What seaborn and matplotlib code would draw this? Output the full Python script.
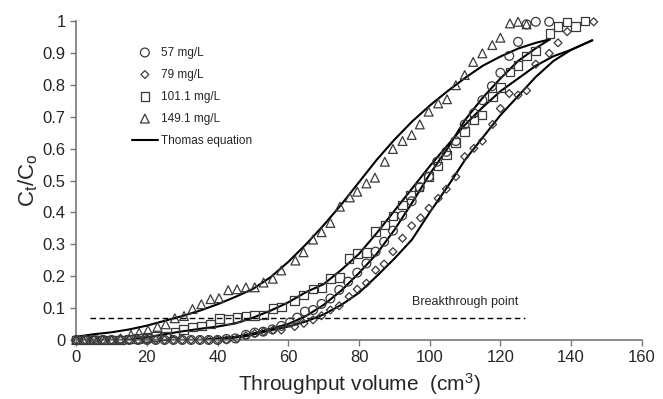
import numpy as np
import pandas as pd
import seaborn as sns
import matplotlib.pyplot as plt

sns.set_style('ticks')
plt.rcParams['font.family'] = ['Liberation Sans', 'DejaVu Sans']
plt.rcParams['mathtext.fontset'] = 'custom'
plt.rcParams['mathtext.rm'] = 'Liberation Sans'
plt.rcParams['mathtext.it'] = 'Liberation Sans'

# ---- measured points ----
x57 = [0, 2.5, 5, 7.5, 10, 12.5, 15, 17.5, 20, 22.5, 25, 27.5, 30, 32.5, 35, 37.5, 40, 42.5, 45,
       48, 50.5, 52.9, 55.5, 58, 60.5, 62.5, 64.7, 67, 69.4, 71.9, 74.4, 76.9, 79.5, 82.1, 84.7,
       87.1, 89.6, 92.2, 94.9, 97.2, 99.8, 102.1, 104.7, 107.4, 109.9, 112.5, 114.9, 117.6, 120,
       122.5, 125, 127.4, 130, 133.8]
y57 = [0, 0, 0, 0, 0, 0, 0, 0, 0, 0, 0, 0, 0, 0, 0, 0, 0, 0.003, 0.005,
       0.016, 0.023, 0.026, 0.033, 0.044, 0.055, 0.07, 0.089, 0.094, 0.113, 0.13, 0.157, 0.183,
       0.211, 0.24, 0.277, 0.308, 0.343, 0.39, 0.435, 0.479, 0.512, 0.559, 0.59, 0.624, 0.676,
       0.711, 0.752, 0.796, 0.838, 0.891, 0.935, 0.99, 0.998, 0.998]

x79 = [0, 2.5, 5, 7.5, 10, 12.5, 15, 17.5, 20, 22.5, 25, 27.5, 30, 32.5, 35, 37.5, 40, 42.5,
       45.5, 48, 50.5, 53, 55.7, 58, 61.8, 64.4, 67, 69.4, 71.9, 74.4, 77.2, 79.5, 82.1, 84.7,
       87.1, 89.6, 92.3, 94.9, 97.4, 99.8, 102.4, 104.7, 107.4, 109.9, 112.5, 114.9, 117.8, 120,
       122.5, 125, 127.4, 130, 133.8, 136.3, 138.9, 146.4]
y79 = [0, 0, 0, 0, 0, 0, 0, 0, 0, 0, 0, 0, 0, 0, 0, 0, 0, 0,
       0.003, 0.013, 0.02, 0.026, 0.031, 0.031, 0.042, 0.052, 0.063, 0.076, 0.094, 0.107, 0.136,
       0.159, 0.178, 0.219, 0.238, 0.277, 0.319, 0.358, 0.383, 0.413, 0.444, 0.473, 0.512, 0.575,
       0.601, 0.624, 0.676, 0.726, 0.773, 0.768, 0.782, 0.865, 0.899, 0.932, 0.967, 0.998]

x101 = [0, 2.5, 5, 7.5, 10, 12.5, 15, 17.5, 20, 22.5, 25.3, 27.9, 30.4, 32.9, 35.4, 38, 40.6,
        43, 45.5, 48, 50.5, 53, 55.7, 58, 61.8, 64.3, 67, 69.5, 72, 74.4, 77.2, 79.5, 82.1, 84.7,
        87.3, 89.6, 92.3, 94.6, 97, 99.7, 102.3, 104.7, 107.3, 109.9, 112.5, 114.8, 117.7, 120,
        122.7, 125, 127.4, 130, 134, 136.3, 138.9, 141.3, 143.9]
y101 = [0, 0, 0, 0, 0, 0, 0.003, 0.005, 0.008, 0.01, 0.013, 0.023, 0.033, 0.04, 0.044, 0.05,
        0.068, 0.065, 0.07, 0.075, 0.076, 0.078, 0.099, 0.104, 0.123, 0.141, 0.16, 0.165, 0.193,
        0.196, 0.256, 0.272, 0.275, 0.34, 0.361, 0.389, 0.423, 0.455, 0.48, 0.512, 0.545, 0.58,
        0.619, 0.653, 0.69, 0.705, 0.763, 0.792, 0.841, 0.86, 0.89, 0.907, 0.961, 0.984, 0.998,
        0.984, 1.0]

x149 = [0, 2, 4, 6, 8, 10, 12.5, 15.5, 17.8, 20.3, 23, 25.3, 27.9, 30.5, 32.9, 35.4, 38, 40.4,
        43, 45.5, 48, 50.5, 53, 55.6, 58, 62, 64.3, 67, 69.4, 71.9, 74.6, 77.4, 79.5, 82.1, 84.5,
        87.3, 89.6, 92.3, 94.9, 97.2, 99.7, 102.4, 104.9, 107.4, 109.9, 112.3, 114.9, 117.7, 120,
        122.7, 125, 127.4]
y149 = [0, 0, 0, 0, 0, 0, 0.005, 0.016, 0.023, 0.031, 0.041, 0.049, 0.068, 0.075, 0.097, 0.112,
        0.128, 0.131, 0.156, 0.159, 0.165, 0.165, 0.18, 0.192, 0.218, 0.249, 0.275, 0.315, 0.338,
        0.367, 0.418, 0.447, 0.465, 0.491, 0.509, 0.559, 0.599, 0.624, 0.643, 0.676, 0.716, 0.742,
        0.755, 0.799, 0.831, 0.872, 0.899, 0.925, 0.948, 0.993, 0.998, 0.99]

# ---- Thomas model curves ----
t57_x = [0, 35, 45, 50, 55, 60, 65, 70, 75, 80, 85, 90, 95, 100, 105, 110, 115, 120, 125, 130, 134]
t57_y = [0, 0.0, 0.01, 0.02, 0.035, 0.05, 0.075, 0.11, 0.155, 0.21, 0.27, 0.345, 0.43, 0.52,
         0.6, 0.69, 0.76, 0.82, 0.875, 0.915, 0.943]

t79_x = [0, 40, 48, 55, 60, 65, 70, 75, 80, 85, 90, 95, 100, 105, 110, 115, 120, 125, 130, 135,
         140, 146]
t79_y = [0, 0.0, 0.012, 0.03, 0.042, 0.058, 0.08, 0.11, 0.148, 0.2, 0.255, 0.315, 0.4, 0.48,
         0.565, 0.635, 0.705, 0.765, 0.825, 0.875, 0.91, 0.94]

t101_x = [0, 15, 20, 25, 30, 35, 40, 45, 50, 55, 60, 65, 70, 75, 80, 85, 90, 95, 100, 105, 110,
          115, 120, 125, 130, 135, 140, 146]
t101_y = [0, 0.0, 0.008, 0.018, 0.027, 0.035, 0.042, 0.052, 0.07, 0.092, 0.118, 0.15, 0.175,
          0.22, 0.27, 0.335, 0.405, 0.475, 0.545, 0.61, 0.675, 0.73, 0.78, 0.82, 0.86, 0.89,
          0.91, 0.94]

t149_x = [0, 5, 10, 15, 20, 25, 30, 35, 40, 45, 50, 55, 60, 65, 70, 75, 80, 85, 90, 95, 100,
          105, 110, 115, 120, 125, 130, 134]
t149_y = [0.01, 0.018, 0.024, 0.033, 0.045, 0.06, 0.075, 0.092, 0.112, 0.135, 0.16, 0.197,
          0.245, 0.3, 0.36, 0.425, 0.495, 0.565, 0.628, 0.685, 0.735, 0.78, 0.822, 0.86, 0.889,
          0.914, 0.932, 0.943]

break_x = [4, 127]
break_y = [0.07, 0.07]

fig, ax = plt.subplots(figsize=(6.63, 3.99), dpi=100)
fig.subplots_adjust(left=0.115, right=0.968, bottom=0.148, top=0.947)

ec = '#3a3a3a'
series = [
    (x57, y57, 'o', 40, '57 mg/L'),
    (x79, y79, 'D', 16, '79 mg/L'),
    (x101, y101, 's', 38, '101.1 mg/L'),
    (x149, y149, '^', 40, '149.1 mg/L'),
]
for xs, ys, m, s, lab in series:
    sns.scatterplot(x=xs, y=ys, marker=m, s=s, facecolors='none', edgecolor=ec,
                    linewidth=0.9, label=lab, ax=ax, clip_on=False, zorder=3)

curves = [(t57_x, t57_y), (t79_x, t79_y), (t101_x, t101_y), (t149_x, t149_y)]
for i, (cx, cy) in enumerate(curves):
    sns.lineplot(x=cx, y=cy, color='black', linewidth=1.5, ax=ax, sort=False,
                 label='Thomas equation' if i == 0 else '_nolegend_', zorder=2)

sns.lineplot(x=break_x, y=break_y, color='black', linewidth=1.0, ax=ax,
             linestyle=(0, (4, 2.5)), label='_nolegend_')
ax.text(95, 0.10, 'Breakthrough point', fontsize=9, ha='left', va='bottom')

ax.set_xlim(0, 160)
ax.set_ylim(0, 1)
ax.set_xticks(np.arange(0, 161, 20))
ax.set_yticks(np.arange(0, 1.01, 0.1))
ax.set_yticklabels(['0', '0.1', '0.2', '0.3', '0.4', '0.5', '0.6', '0.7', '0.8', '0.9', '1'])
ax.tick_params(axis='both', labelsize=12, color='#777777', length=4, width=1)
ax.set_xlabel('Throughput volume  (cm$^3$)', fontsize=15, labelpad=4)
ax.set_ylabel('C$_t$/C$_o$', fontsize=16, labelpad=2)
sns.despine(ax=ax)
for sp in ['left', 'bottom']:
    ax.spines[sp].set_color('#777777')
    ax.spines[sp].set_linewidth(1.2)

h, l = ax.get_legend_handles_labels()
order = ['57 mg/L', '79 mg/L', '101.1 mg/L', '149.1 mg/L', 'Thomas equation']
hd = dict(zip(l, h))
ax.legend([hd[k] for k in order], order, loc='upper left', bbox_to_anchor=(0.09, 0.935),
          frameon=False, fontsize=8.5, handlelength=2.2, labelspacing=0.85,
          handletextpad=0.3, borderaxespad=0)

fig.savefig('out.png', dpi=100)
